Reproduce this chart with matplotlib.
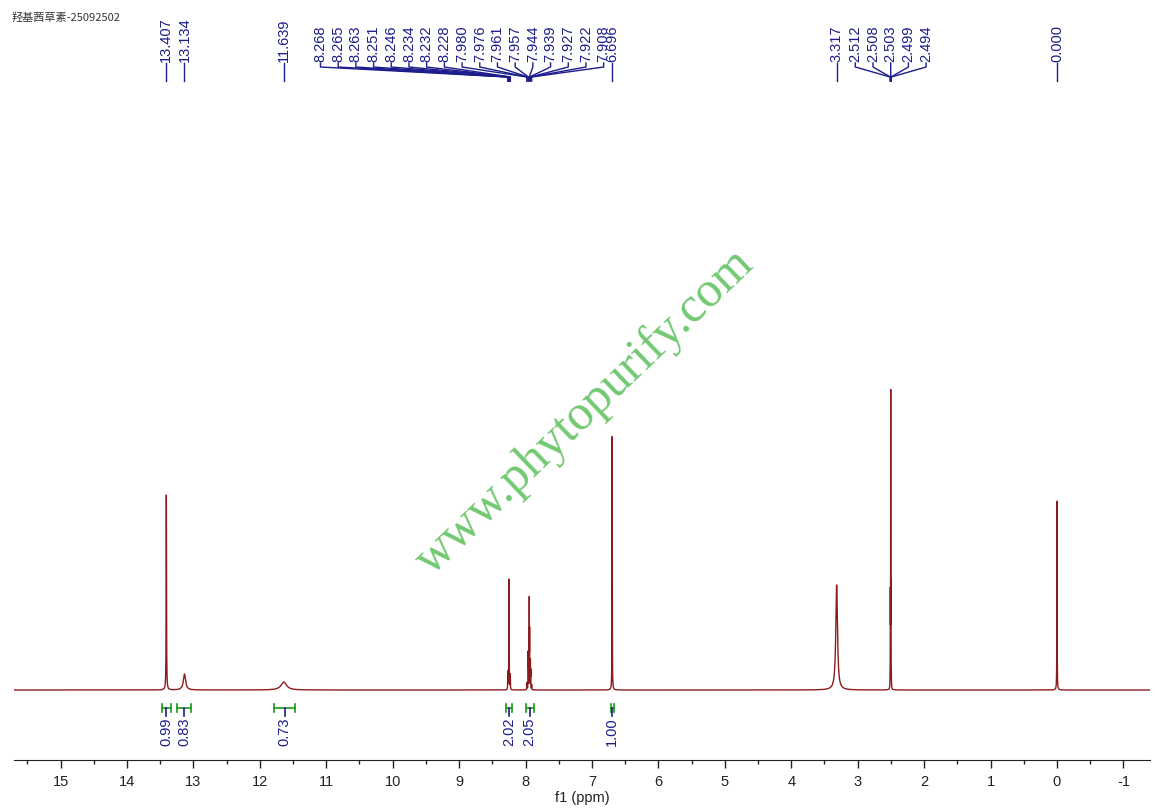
#encoding=utf-8
import numpy as np
import matplotlib
matplotlib.use("Agg")
import matplotlib.pyplot as plt
from matplotlib.transforms import blended_transform_factory

# ---- data ----
title = "羟基茜草素-25092502"

# peak list: shift (ppm), height (px above baseline), half width (ppm)
peak_ppm = [13.407, 13.134, 11.639,
            8.268, 8.265, 8.263, 8.251, 8.246, 8.234, 8.232, 8.228,
            7.980, 7.976, 7.961, 7.957, 7.944, 7.939, 7.927, 7.922, 7.908,
            6.696, 3.317,
            2.512, 2.508, 2.503, 2.499, 2.494,
            0.000]
peak_height = [195, 16, 8,
               10, 12, 10, 106, 55, 10, 10, 8,
               6, 6, 35, 25, 88, 55, 28, 18, 5,
               254, 105,
               10, 85, 290, 85, 10,
               189]
peak_width = [0.003, 0.02, 0.05,
              0.0015, 0.0015, 0.0015, 0.0015, 0.0015, 0.0015, 0.0015, 0.0015,
              0.0015, 0.0015, 0.0015, 0.0015, 0.0015, 0.0015, 0.0015, 0.0015, 0.0015,
              0.002, 0.015,
              0.0012, 0.0012, 0.0012, 0.0012, 0.0012,
              0.002]

# labelled peaks, grouped as they are drawn on top
label_groups = [["13.407"], ["13.134"], ["11.639"],
                ["8.268", "8.265", "8.263", "8.251", "8.246", "8.234", "8.232", "8.228",
                 "7.980", "7.976", "7.961", "7.957", "7.944", "7.939", "7.927", "7.922", "7.908"],
                ["6.696"], ["3.317"],
                ["2.512", "2.508", "2.503", "2.499", "2.494"],
                ["0.000"]]

# integrals: (from ppm, to ppm, value)
integ_from = [13.47, 13.24, 11.78, 8.30, 8.00, 6.72]
integ_to = [13.34, 13.03, 11.47, 8.20, 7.88, 6.67]
integ_val = ["0.99", "0.83", "0.73", "2.02", "2.05", "1.00"]

xticks = list(range(15, -2, -1))


def main():
    plt.rcParams["axes.unicode_minus"] = False
    W, H = 1163, 810
    fig = plt.figure(figsize=(W / 100, H / 100), dpi=100)
    ax = fig.add_axes([14 / W, 50 / H, (1150 - 14) / W, 1 - 50 / H])

    # spectrum as sum of lorentzians
    x = np.linspace(15.7, -1.4, 80000)
    y = np.zeros_like(x)
    for p, h, w in zip(peak_ppm, peak_height, peak_width):
        y += h * w ** 2 / ((x - p) ** 2 + w ** 2)
    ax.plot(x, y, color="#8c1c1c", lw=1.0)

    ax.set_xlim(15.7, -1.4)
    ax.set_ylim(-70, 690)
    for s in ["top", "left", "right"]:
        ax.spines[s].set_visible(False)
    ax.spines["bottom"].set_color("#222222")
    ax.set_yticks([])
    ax.set_xticks(xticks)
    ax.set_xticks(np.arange(15.5, -1.5, -1), minor=True)
    ax.tick_params(axis="x", which="major", length=6, width=1, direction="out",
                   labelsize=10.5, colors="#222222", pad=5)
    ax.tick_params(axis="x", which="minor", length=3, width=1, direction="out", colors="#222222")
    for lab in ax.get_xticklabels():
        lab.set_fontfamily("Liberation Sans")
    ax.set_xlabel("f1 (ppm)", fontsize=10.5, family="Liberation Sans", labelpad=1, color="#222222")

    # peak labels on top (y in figure pixels from top)
    trans = blended_transform_factory(ax.transData, fig.transFigure)
    fy = lambda py: 1 - py / H
    ppm_per_px = (15.7 + 1.4) / (1150 - 14)
    sp = 17.7 * ppm_per_px
    navy = "#1c1c8c"
    for grp in label_groups:
        vals = [float(v) for v in grp]
        n = len(grp)
        if n == 1:
            lx = vals
        elif n > 10:
            # right end kept next to the 6.696 label
            right = 6.696 + 8.5 * ppm_per_px
            lx = [right + (n - 1 - i) * sp for i in range(n)]
        else:
            c = np.mean(vals)
            lx = [c + ((n - 1) / 2 - i) * sp for i in range(n)]
        for txt, v, l in zip(grp, vals, lx):
            ax.text(l, fy(62), txt, transform=trans, rotation=90, ha="center", va="bottom",
                    fontsize=10.5, family="Liberation Sans", color=navy)
            ax.plot([l, l, v, v], [fy(63), fy(67), fy(77), fy(81)], transform=trans,
                    color=navy, lw=1.0, clip_on=False)

    # integrals below the baseline
    green = "#1a9a1a"
    for a, b, v in zip(integ_from, integ_to, integ_val):
        ax.plot([a, b], [fy(708), fy(708)], transform=trans, color=green, lw=1.2, clip_on=False)
        for e in (a, b):
            ax.plot([e, e], [fy(704), fy(712)], transform=trans, color=green, lw=1.2, clip_on=False)
        c = (a + b) / 2
        ax.plot([c, c], [fy(708), fy(716)], transform=trans, color=navy, lw=1.2, clip_on=False)
        ax.text(c, fy(717), v, transform=trans, rotation=90, ha="center", va="top",
                fontsize=10.5, family="Liberation Sans", color=navy)

    # title and watermark
    fig.text(12 / W, fy(18), title, ha="left", va="center", fontsize=8,
             family=["Noto Sans CJK SC", "DejaVu Sans"], color="#333333")
    fig.text(585 / W, fy(412), "www.phytopurify.com", ha="center", va="center",
             rotation=43.7, rotation_mode="anchor", fontsize=36,
             family="Liberation Serif", color="#72c872")

    fig.savefig("out.png", dpi=100)


if __name__ == '__main__':
    main()
